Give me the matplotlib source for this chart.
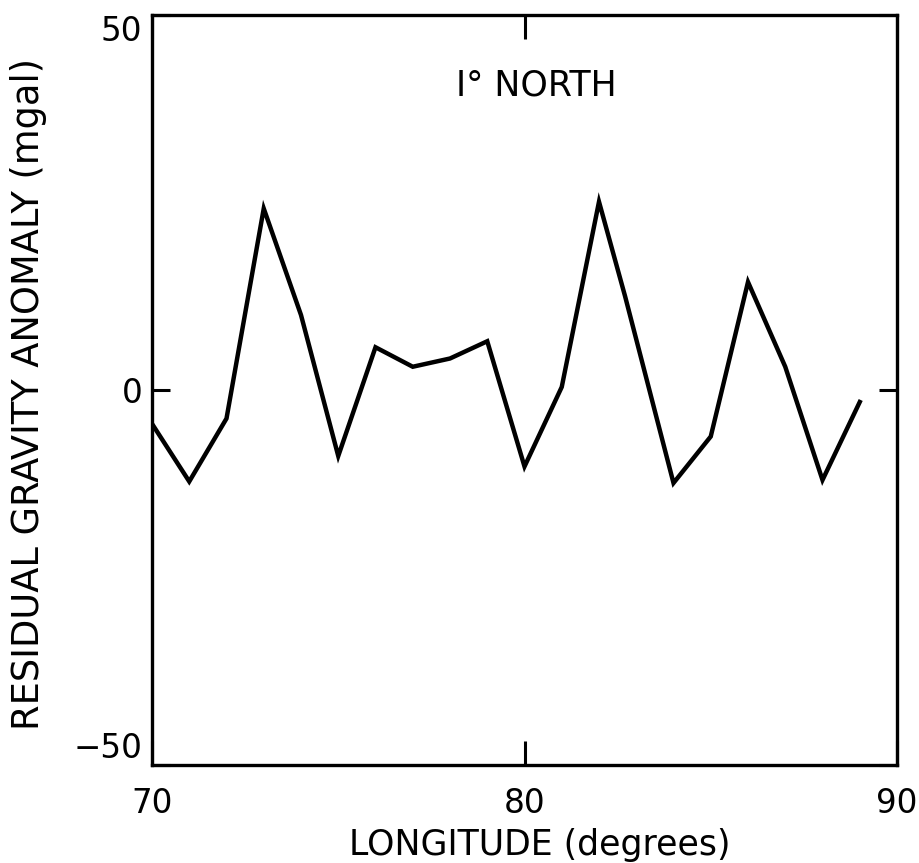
import matplotlib
matplotlib.use("Agg")
import matplotlib.pyplot as plt

# Data
longitude = [70, 71, 72, 73, 74, 75, 76, 77, 78, 79, 80, 81, 82, 82.7, 84, 85, 86, 87, 88, 89]
anomaly = [-4.5, -12.2, -3.8, 24.2, 10.0, -8.8, 5.7, 3.1, 4.2, 6.5, -10.2, 0.4, 25.1, 12.5,
           -12.4, -6.2, 14.4, 3.1, -12.0, -1.6]

x_ticks = [70, 80, 90]
x_ticklabels = ["70", "80", "90"]
y_ticks = [-50, 0, 50]
y_ticklabels = ["\u221250", "0", "50"]

plt.rcParams['font.family'] = ['DejaVu Sans']

fig = plt.figure(figsize=(9.2, 8.63), dpi=100)
ax = fig.add_axes([152 / 920, 1 - 765 / 863, (897 - 152) / 920, (765 - 15) / 863])

ax.plot(longitude, anomaly, color='black', lw=3.2, solid_joinstyle='miter')

ax.set_xlim(70, 90)
ax.set_ylim(-50, 50)

for s in ax.spines.values():
    s.set_linewidth(2.4)

ax.set_xticks(x_ticks)
ax.set_xticklabels(x_ticklabels)
ax.set_yticks(y_ticks)
ax.set_yticklabels(y_ticklabels)

ax.tick_params(axis='x', direction='in', length=17, width=2.2, top=True, bottom=True,
               labelsize=23.5, pad=16)
ax.tick_params(axis='y', direction='in', length=13, width=2.2, left=True, right=True,
               labelsize=23.5, pad=7)

ylabs = ax.get_yticklabels()
ylabs[0].set_va('bottom')
ylabs[2].set_va('top')

ax.set_xlabel("LONGITUDE (degrees)", fontsize=25)
ax.xaxis.set_label_coords(0.52, -0.084)
ax.set_ylabel("RESIDUAL GRAVITY ANOMALY (mgal)", fontsize=26.5)
ax.yaxis.set_label_coords(-0.141, 0.495)

ax.text(0.516, 0.906, "I\u00b0 NORTH", transform=ax.transAxes, fontsize=25,
        ha='center', va='center')

fig.savefig("out.png", dpi=100)
